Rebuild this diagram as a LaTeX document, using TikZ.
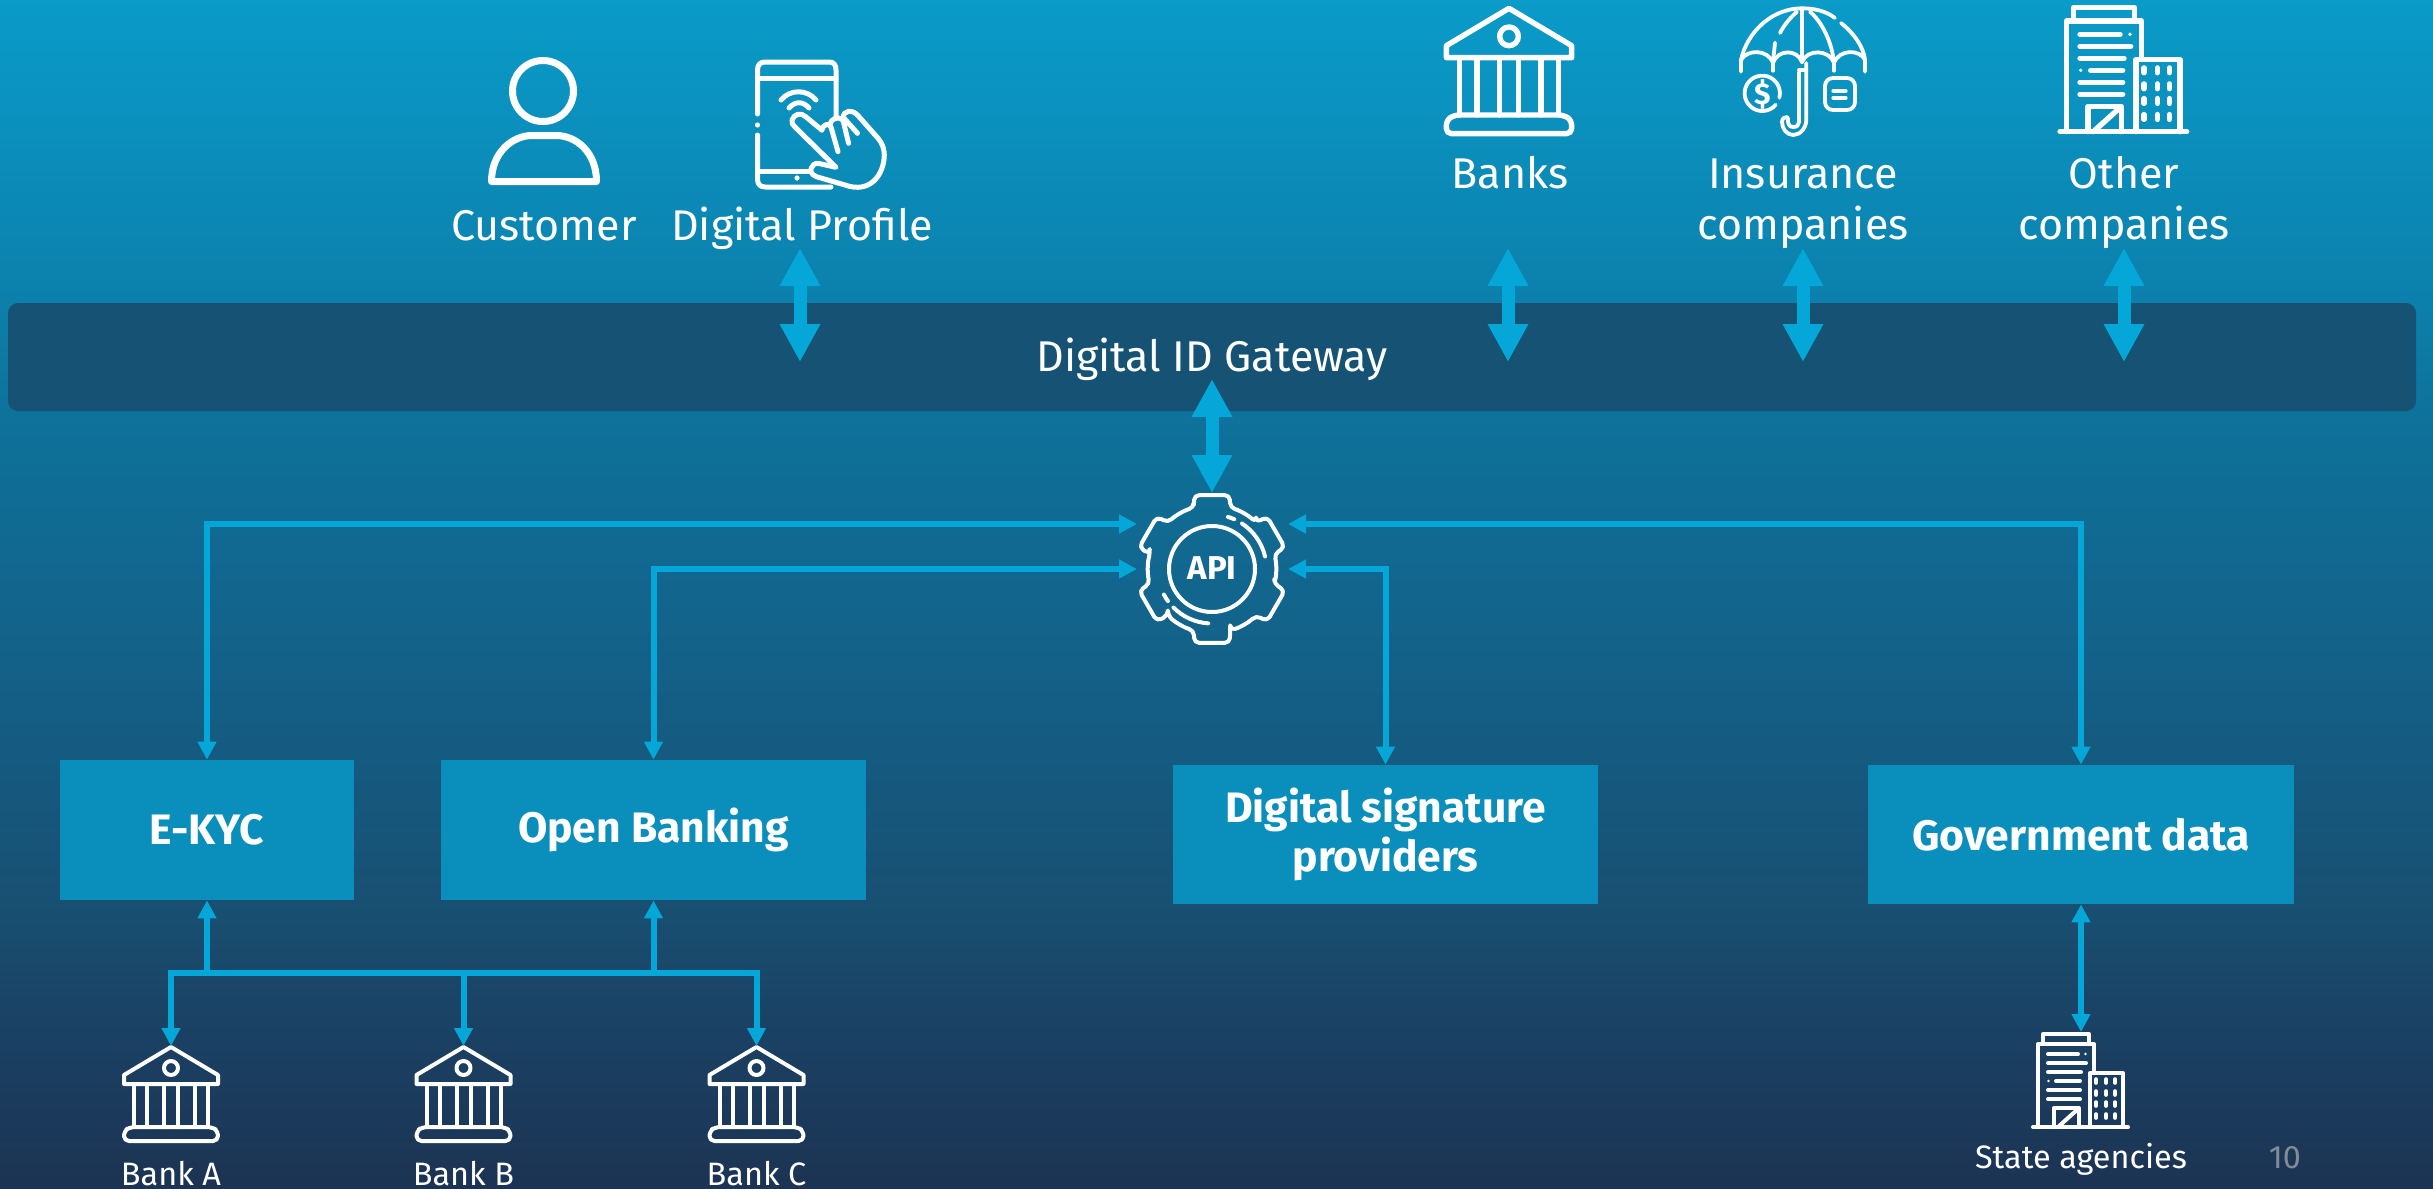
\documentclass[tikz,border=0pt]{standalone}
\usepackage{fontspec}
\setmainfont{Fira Sans}
\newfontfamily\regf{Fira Sans}
\usetikzlibrary{arrows.meta}
\definecolor{arrowc}{HTML}{04A7D8}
\definecolor{boxc}{HTML}{0A8FBD}
\definecolor{barc}{HTML}{165274}
\definecolor{pagenum}{HTML}{808B96}
\definecolor{bgA}{RGB}{28,51,83}
\definecolor{bgB}{RGB}{26,68,103}
\definecolor{bgC}{RGB}{24,80,114}
\definecolor{bgD}{RGB}{19,98,138}
\definecolor{bgE}{RGB}{14,113,153}
\definecolor{bgF}{RGB}{12,128,172}
\definecolor{bgG}{RGB}{10,155,201}
\pgfdeclareverticalshading{pagebg}{100bp}{
 color(0bp)=(bgA);
 color(25bp)=(bgA);
 color(33bp)=(bgB);
 color(37bp)=(bgC);
 color(48bp)=(bgD);
 color(57bp)=(bgE);
 color(62.5bp)=(bgF);
 color(75bp)=(bgG);
 color(100bp)=(bgG)}
\tikzset{
 icon/.style={draw=white,line cap=round,line join=round},
 smallicon/.style={line width=2pt},
 bigicon/.style={scale=1.333,line width=2.7pt},
 thinlink/.style={draw=arrowc,line width=3pt},
 thinboth/.style={thinlink,{Triangle[width=9pt,length=9pt]}-{Triangle[width=9pt,length=9pt]}},
 thinend/.style={thinlink,-{Triangle[width=9pt,length=9pt]}},
 fatboth/.style={draw=arrowc,line width=6.5pt,{Triangle[width=19pt,length=19pt]}-{Triangle[width=19pt,length=19pt]}},
 bluebox/.style={fill=boxc,text=white,inner sep=0pt,align=center,font=\fontsize{21.3}{26}\selectfont\bfseries},
 label/.style={text=white,inner sep=0pt,anchor=base,font=\fontsize{21.5}{25.5}\selectfont},
 smalllabel/.style={text=white,inner sep=0pt,anchor=base,font=\fontsize{16.2}{18}\selectfont\regf},
 holder/.style={inner sep=0pt,minimum width=#1,minimum height=#1},
 bankicon/.pic={
  \draw[icon] (0,1) -- (47,29) -- (47,38) -- (-47,38) -- (-47,29) -- cycle;
  \draw[icon] (0,22) circle (7);
  \foreach \cx in {-37,-24,-7,7,24,37} \draw[icon] (\cx,38) -- (\cx,81);
  \draw[icon,rounded corners=2.5pt] (-47,95) -- (-47,85) -- (-41,81) -- (41,81) -- (47,85) -- (47,95) -- cycle;
 },
 buildingicon/.pic={
  \draw[icon] (-48,95) -- (47,95);
  \draw[icon] (-43,95) -- (-43,12) -- (13,12) -- (13,40);
  \draw[icon] (-38,12) -- (-38,2) -- (8,2) -- (8,12);
  \draw[icon] (9,95) -- (9,41) -- (42,41) -- (42,95);
  \foreach \ly/\la/\lb in {22/-33/-3,31/-33/5,40/-33/0,58/-33/-1,67/-33/-1}
   \draw[icon] (\la,\ly) -- (\lb,\ly);
  \draw[icon] (-25,49) -- (-1,49);
  \fill[white] (4.5,22) circle (1.4) (-32.5,49) circle (1.4);
  \draw[icon] (-27,95) -- (-27,76) -- (-2,76) -- (-2,95);
  \draw[icon] (-23,95) -- (-3,77);
  \foreach \wx in {15,25,34} \foreach \wy in {49,61,72,84}
   \draw[icon] (\wx,\wy-1.8) -- (\wx,\wy+1.8);
 }
}
\begin{document}
\begin{tikzpicture}[x=0.5pt,y=-0.5pt]
\useasboundingbox (0,0) rectangle (2433,1189);
\shade[shading=pagebg] (0,0) rectangle (2433,1189);

% gateway bar
\node[fill=barc,rounded corners=5pt,minimum width=1204pt,minimum height=54pt,inner sep=0pt] (gw) at (1212,357) {};
\node[label] (gwtext) at (1212,371) {Digital ID Gateway};

% person
\draw[icon,line width=3.5pt] (543,91) circle (30.5);
\draw[icon,line width=3.5pt] (491.5,181.5) .. controls (491.5,152) and (513,135.5) .. (532,135.5) -- (556,135.5) .. controls (576,135.5) and (596.5,152) .. (596.5,181.5) -- cycle;
\node[label] (customer) at (544,240) {Customer};

% phone with hand
\begin{scope}[line width=2.5pt]
\draw[icon] (757.5,114) -- (757.5,70) .. controls (757.5,65) and (760,62) .. (765,62) -- (829,62) .. controls (834,62) and (836,65) .. (836,70) -- (836,117);
\draw[icon] (757.5,135) -- (757.5,179) .. controls (757.5,184) and (760,187) .. (765,187) -- (831,187);
\draw[icon] (757.5,78) -- (836,78);
\draw[icon] (757.5,171) -- (809,171);
\fill[white] (757.5,125) circle (2.6) (797,178) circle (2.6);
\draw[icon] (781,100) .. controls (790,89) and (807,89) .. (816,100);
\draw[icon] (789,108) .. controls (795,101) and (803,101) .. (809,108);
\draw[icon] (821.8,130) -- (805.7,116.7) .. controls (801,112) and (794,114) .. (792,120) .. controls (791,123) and (793,125) .. (795,127) -- (836,167.3) -- (818,163.3) .. controls (811,163) and (807,173) .. (816.4,176.7) -- (845,185) .. controls (870,194) and (884,175) .. (884.3,155) .. controls (884,145) and (880,140) .. (873.6,133.3) -- (857.5,115) .. controls (852,109) and (843,111) .. (843,117);
\draw[icon] (843,117) -- (857.5,133.3);
\draw[icon] (830,125) .. controls (831,118) and (838,116) .. (843,120) -- (848.6,143.3);
\draw[icon] (821.8,130) .. controls (823,125) and (828,122) .. (831,127) -- (838,151.7);
\end{scope}
\node[label] (profile) at (802,240) {Digital Profile};

% upper-right icons
\node[holder=0pt] (bigbank) at (1509,7) {};
\pic[bigicon] at (bigbank) {bankicon};
\node[label] (banks) at (1510,188) {Banks};

% umbrella
\begin{scope}[shift={(1802,0)},line width=1.9pt]
\draw[icon] (-61,60) .. controls (-55,32) and (-30,8.3) .. (0,8.3) .. controls (12,8.3) and (24,11) .. (33,18);
\draw[icon] (39,23) .. controls (52,33) and (62,48) .. (63,60);
\draw[icon] (-61,71.7) -- (-61,60) .. controls (-55,49) and (-34,49) .. (-29,63) .. controls (-24,49) and (-5,49) .. (0,62) .. controls (5,49) and (27,49) .. (32,63) .. controls (37,49) and (58,49) .. (63,60) -- (63,71.7);
\draw[icon] (-29,63) -- (-29,70.7) (32,63) -- (32,70.7);
\draw[icon] (0,10) -- (0,62);
\draw[icon] (-5,11.7) .. controls (-12,18) and (-18,25) .. (-22,33);
\draw[icon] (-27,42.7) -- (-29,62);
\draw[icon] (8,11.7) .. controls (20,22) and (30,42) .. (32,63);
\draw[icon] (-3,70) -- (4.3,70);
\draw[icon] (4.3,63) -- (4.3,120) .. controls (4.3,128) and (-2,135) .. (-8.7,135) .. controls (-15,135) and (-20,129) .. (-20,122) .. controls (-20,118) and (-17,117) .. (-15,117) .. controls (-14,117) and (-14,119) .. (-14,121) .. controls (-14,125) and (-12,127) .. (-8.7,127) .. controls (-5,127) and (-3,125) .. (-3,122) -- (-3,72);
\begin{scope}[shift={(-39.7,93.3)},yscale=-1]
\draw[icon] (-40:17.7) arc[start angle=-40,end angle=-374.5,radius=17.7];
\end{scope}
\node[text=white,inner sep=0pt,font=\fontsize{15}{15}\selectfont\bfseries] (dollar) at (-39.7,94) {\$};
\draw[icon,rounded corners=4pt] (23,78) rectangle (53,110);
\draw[icon] (31.3,90.7) -- (43.7,90.7) (31.3,97.7) -- (43.7,97.7);
\end{scope}
\node[label] (insurance) at (1803,188) {Insurance};
\node[label] (insurance2) at (1803,239) {companies};

\node[holder=0pt] (bigbuilding) at (2124,5) {};
\pic[bigicon] at (bigbuilding) {buildingicon};
\node[label] (other) at (2124,188) {Other};
\node[label] (other2) at (2124,239) {companies};

% fat arrows to the gateway
\foreach \nm/\ax in {p/800,b/1508,i/1803,o/2124}{
 \coordinate (top\nm) at (\ax,248);
 \coordinate (bot\nm) at (\ax,362);
 \draw[fatboth] (top\nm) -- (bot\nm);
}

% gear
\node[holder=75pt,circle] (api) at (1212,569) {};
\begin{scope}[shift={(1212,569)},yscale=-1]
\draw[icon,line width=2pt,rounded corners=2.5pt] (106.5:64)
  \foreach \a in {90,30,-30,-90,-150,-210}{
   -- ({\a+16.5}:64) -- ({\a+13.5}:76) -- ({\a-13.5}:76) -- ({\a-16.5}:64)
   arc[start angle={\a-16.5},end angle={\a-43.5},radius=64]
  } -- cycle;
\draw[icon,line width=2pt] (0,0) circle (43);
\draw[icon,line width=2pt] (56.6:54.5) arc[start angle=56.6,end angle=13.3,radius=54.5];
\draw[icon,line width=2pt] (73:54.5) arc[start angle=73,end angle=66,radius=54.5];
\draw[icon,line width=2pt] (225:54.5) arc[start angle=225,end angle=266,radius=54.5];
\draw[icon,line width=2pt] (208:54.5) arc[start angle=208,end angle=216,radius=54.5];
\end{scope}
\node[text=white,inner sep=0pt,font=\fontsize{16.5}{17}\selectfont\bfseries] (apitext) at (1212,568) {API};
\coordinate (gearLa) at (1137,524);
\coordinate (gearLb) at (1137,569);
\coordinate (gearRa) at (1288,524);
\coordinate (gearRb) at (1288,569);
\coordinate (gearT) at (1212,493);
\coordinate (gwB) at (1212,379);
\draw[fatboth] (gwB) -- (gearT);

% boxes
\node[bluebox,minimum width=147pt,minimum height=70pt] (ekyc) at (207,830) {E-KYC};
\node[bluebox,minimum width=212.5pt,minimum height=70pt] (openb) at (653.5,830) {\raisebox{-0.8pt}{Open Banking}};
\node[bluebox,minimum width=212.5pt,minimum height=69.5pt] (sign) at (1385.5,834.5) {\raisebox{-2.4pt}{Digital signature}\\\raisebox{-1.2pt}{providers}};
\node[bluebox,minimum width=213pt,minimum height=69.5pt] (gov) at (2081,834.5) {Government data};

% thin connectors to the gear
\draw[thinboth] (ekyc.north) |- (gearLa);
\draw[thinboth] (openb.north) |- (gearLb);
\draw[thinboth] (sign.north) |- (gearRb);
\draw[thinboth] (gov.north) |- (gearRa);

% banks
\coordinate (tipA) at (171,1046);
\coordinate (tipB) at (463.5,1046);
\coordinate (tipC) at (756.5,1046);
\pic[smallicon] at (tipA) {bankicon};
\pic[smallicon] at (tipB) {bankicon};
\pic[smallicon] at (tipC) {bankicon};
\node[smalllabel] (la) at (171,1185) {Bank A};
\node[smalllabel] (lb) at (463.5,1185) {Bank B};
\node[smalllabel] (lc) at (756.5,1185) {Bank C};
\coordinate (busA) at (171,973);
\coordinate (busB) at (463.5,973);
\coordinate (busC) at (756.5,973);
\coordinate (busE) at (207,973);
\coordinate (busO) at (653.5,973);
\draw[thinlink,line cap=rect] (busA) -- (busC);
\draw[thinend] (busA) -- (tipA);
\draw[thinend] (busB) -- (tipB);
\draw[thinend] (busC) -- (tipC);
\draw[thinend] (busE) -- (ekyc.south);
\draw[thinend] (busO) -- (openb.south);

% state agencies
\coordinate (statetip) at (2081,1032);
\pic[smallicon] at (statetip) {buildingicon};
\node[smalllabel] (state) at (2081,1168) {State agencies};
\draw[thinboth] (gov.south) -- (statetip);
\node[inner sep=0pt,anchor=base,text=pagenum,font=\fontsize{16.2}{18}\selectfont\regf] (pg) at (2285,1168) {10};
\end{tikzpicture}
\end{document}
